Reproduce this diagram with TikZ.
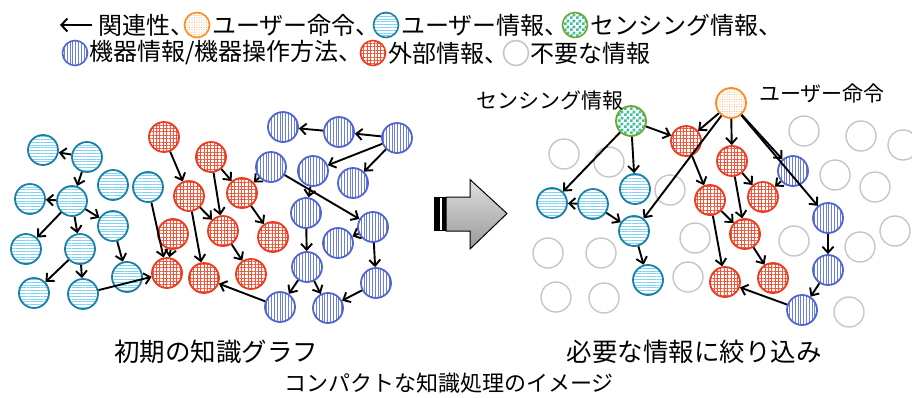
\documentclass[tikz,border=0pt]{standalone}
\usepackage{fontspec}
\newfontfamily\jp{Noto Sans CJK JP}
\usetikzlibrary{arrows.meta,patterns,patterns.meta}

\definecolor{tealline}{HTML}{1C7FA6}
\definecolor{tealfill}{HTML}{7FD2F2}
\definecolor{redline}{HTML}{EE3A1E}
\definecolor{redfill}{HTML}{F2563C}
\definecolor{blueline}{HTML}{5065D2}
\definecolor{bluefill}{HTML}{6C7FE0}
\definecolor{greenline}{HTML}{6AA92E}
\definecolor{greenfill}{HTML}{3FBF9C}
\definecolor{orangeline}{HTML}{FF8A1E}
\definecolor{orangefill}{HTML}{FF9E4A}
\definecolor{grayline}{HTML}{C6C6C6}

% checkerboard with 3pt squares
\pgfdeclarepatternformonly{chk}{\pgfqpoint{0pt}{0pt}}{\pgfqpoint{6pt}{6pt}}{\pgfqpoint{6pt}{6pt}}{%
  \pgfpathrectangle{\pgfqpoint{0pt}{0pt}}{\pgfqpoint{3pt}{3pt}}%
  \pgfpathrectangle{\pgfqpoint{3pt}{3pt}}{\pgfqpoint{3pt}{3pt}}%
  \pgfusepath{fill}}

\tikzset{
  kn/.style={circle, draw, line width=1.8pt, minimum size=30pt, inner sep=0pt},
  user/.style={kn, draw=tealline, pattern={Lines[angle=0,distance=2.8pt,line width=0.9pt]}, pattern color=tealfill},
  ext/.style={kn, draw=redline, pattern={Hatch[angle=0,distance=3.4pt,line width=0.7pt]}, pattern color=redfill},
  dev/.style={kn, draw=blueline, pattern={Lines[angle=90,distance=2.8pt,line width=0.8pt]}, pattern color=bluefill},
  sens/.style={kn, draw=greenline, pattern=chk, pattern color=greenfill},
  cmd/.style={kn, draw=orangeline, pattern={Dots[radius=0.5pt,distance=2.4pt]}, pattern color=orangefill},
  unused/.style={kn, draw=grayline, line width=1.4pt},
  lg/.style={minimum size=25pt, line width=1.6pt},
  rel/.style={line width=1.9pt, -{Straight Barb[length=6pt,width=11pt]}},
  legtext/.style={anchor=west, inner sep=0pt, font=\jp\fontsize{24}{24}\selectfont},
  lbl/.style={inner sep=0pt, font=\jp\fontsize{21}{21}\selectfont},
  head/.style={inner sep=0pt, font=\jp\fontsize{25.5}{25.5}\selectfont},
}

\begin{document}
\begin{tikzpicture}[x=1pt,y=-1pt]
\useasboundingbox (0,0) rectangle (912,397);

% ---------- legend ----------
\coordinate (la1) at (60,25);
\coordinate (la2) at (92,25);
\draw[line width=2pt, {Straight Barb[length=6pt,width=13pt]}-] (la1) -- (la2);
\node[legtext] (lt1) at (98,25) {関連性、};
\node[cmd,lg] (lc1) at (197,25) {};
\node[legtext] (lt2) at (212,25) {ユーザー命令、};
\node[user,lg] (lc2) at (386,25) {};
\node[legtext] (lt3) at (401,25) {ユーザー情報、};
\node[sens,lg] (lc3) at (575,25) {};
\node[legtext] (lt4) at (590,25) {センシング情報、};

\node[dev,lg] (lc4) at (75,53) {};
\node[legtext] (lt5) at (89,53) {機器情報/機器操作方法、};
\node[ext,lg] (lc5) at (373,53) {};
\node[legtext] (lt6) at (388,53) {外部情報、};
\node[unused,lg] (lc6) at (516,53) {};
\node[legtext] (lt7) at (530,53) {不要な情報};

% ---------- initial knowledge graph ----------
\node[user] (u1) at (43,150) {};
\node[user] (u2) at (87,157) {};
\node[user] (u3) at (30,199) {};
\node[user] (u4) at (72,201) {};
\node[user] (u5) at (113,185) {};
\node[user] (u6) at (148,187) {};
\node[user] (u7) at (113,226) {};
\node[user] (u8) at (26,249) {};
\node[user] (u9) at (80,249) {};
\node[user] (u10) at (34,293) {};
\node[user] (u11) at (83,294) {};
\node[user] (u12) at (127,277) {};

\node[ext] (e1) at (164,137) {};
\node[ext] (e2) at (211,157) {};
\node[ext] (e3) at (189,196) {};
\node[ext] (e4) at (173,234) {};
\node[ext] (e5) at (167,273) {};
\node[ext] (e6) at (204,278) {};
\node[ext] (e7) at (242,193) {};
\node[ext] (e8) at (223,231) {};
\node[ext] (e9) at (273,237) {};
\node[ext] (e10) at (251,274) {};

\node[dev] (d1) at (283,127) {};
\node[dev] (d2) at (271,167) {};
\node[dev] (d4) at (339,132) {};
\node[dev] (d5) at (397,138) {};
\node[dev] (d6) at (313,171) {};
\node[dev] (d7) at (353,183) {};
\node[dev] (d8) at (306,213) {};
\node[dev] (d9) at (373,227) {};
\node[dev] (d10) at (338,243) {};
\node[dev] (d11) at (307,267) {};
\node[dev] (d12) at (376,283) {};
\node[dev] (d13) at (280,307) {};
\node[dev] (d14) at (328,308) {};

\foreach \a/\b in {u2/u1,u2/u4,u4/u3,u4/u7,u4/u9,u4/u8,u9/u10,u9/u11,u7/u12,
                   u6/e5,u11/e5,e1/e3,e4/e5,e3/e6,e3/e8,e2/e8,e2/e7,e7/e9,e8/e10,
                   d2/e7,d13/e6,d4/d1,d5/d4,d5/d6,d5/d7,d2/d9,d6/d8,d8/d11,
                   d9/d10,d9/d12,d11/d13,d11/d14,d12/d14}
  \draw[rel] (\a) -- (\b);

% ---------- transition arrow ----------
\fill[black] (434,197) rectangle (446,231);
\fill[white] (440,197.8) rectangle (442.4,230.2);
\shade[top color=gray!25, bottom color=gray!80, draw=black, line width=1pt]
  (446,197) -- (470,197) -- (470,179.5) -- (507,213.5) -- (470,249) -- (470,231) -- (446,231) -- cycle;

% ---------- narrowed graph ----------
\foreach \n/\p in {x1/{564,154},x2/{609,162},x3/{670,190},x4/{548,253},x5/{601,253},
                   x6/{695,238},x7/{556,297},x8/{604,298},x9/{688,277},x10/{804,131},
                   x11/{861,136},x12/{903,145},x13/{835,175},x14/{875,187},x15/{895,231},
                   x16/{860,247},x17/{794,241},x18/{849,312}}
  \node[unused] (\n) at (\p) {};

\node[sens] (sn) at (631,121) {};
\node[cmd] (cm) at (731,103) {};
\node[ext] (ea) at (686,141) {};
\node[ext] (eb) at (732,161) {};
\node[ext] (ec) at (710,200) {};
\node[ext] (ed) at (763,197) {};
\node[ext] (ee) at (745,234) {};
\node[ext] (ef) at (725,282) {};
\node[ext] (eg) at (773,278) {};
\node[dev] (da) at (793,171) {};
\node[dev] (db) at (828,218) {};
\node[dev] (dc) at (828,270) {};
\node[dev] (dd) at (802,310) {};
\node[user] (ua) at (552,203) {};
\node[user] (ub) at (593,204) {};
\node[user] (uc) at (635,189) {};
\node[user] (ud) at (634,231) {};
\node[user] (ue) at (648,280) {};

\foreach \a/\b in {sn/ua,sn/uc,sn/ea,ub/ua,ub/ud,ud/ue,cm/ea,cm/eb,cm/da,cm/db,
                   ea/ec,eb/ed,eb/ee,ec/ee,ec/ef,ee/eg,da/ed,db/dc,dc/dd,dd/ef,cm/ud}
  \draw[rel] (\a) -- (\b);

\node[lbl] (snl) at (550,101) {センシング情報};
\node[lbl] (cml) at (822,94) {ユーザー命令};

% ---------- titles ----------
\node[head] (h1) at (216,352) {初期の知識グラフ};
\node[head] (h2) at (694,352) {必要な情報に絞り込み};
\node[inner sep=0pt, font=\jp\fontsize{22}{22}\selectfont] (cap) at (449,383) {コンパクトな知識処理のイメージ};
\end{tikzpicture}
\end{document}
